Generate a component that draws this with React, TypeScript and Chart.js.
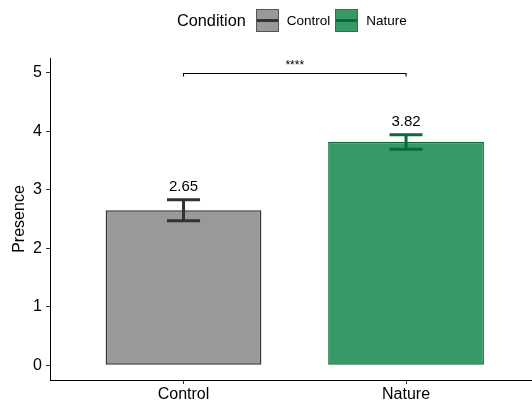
import React, { useEffect, useRef } from "react";
import { Chart, registerables } from "chart.js";

Chart.register(...registerables);

const categories = ["Control", "Nature"];
const means = [2.65, 3.82];
const errLow = [2.47, 3.69];
const errHigh = [2.83, 3.94];
const valueLabels = ["2.65", "3.82"];
const yTicks = [0, 1, 2, 3, 4, 5];
const bracketY = 5.0;
const bracketLabel = "****";

const fills = ["#999999", "#369966"];
const borders = ["#333333", "#0B6B38"];
const errColors = ["#333333", "#0B6B38"];

const FONT = "'Liberation Sans', Arial, Helvetica, sans-serif";

const overlayPlugin = {
  id: "overlay",
  afterDatasetsDraw(chart: any) {
    const ctx = chart.ctx;
    const xs = chart.scales.x;
    const ys = chart.scales.y;
    ctx.save();
    means.forEach((m, i) => {
      const x = xs.getPixelForValue(i + 1);
      const yHi = ys.getPixelForValue(errHigh[i]);
      const yLo = ys.getPixelForValue(errLow[i]);
      const half = 16.5;
      ctx.strokeStyle = errColors[i];
      ctx.lineWidth = 3;
      ctx.lineCap = "butt";
      ctx.beginPath();
      ctx.moveTo(x, yHi);
      ctx.lineTo(x, yLo);
      ctx.moveTo(x - half, yHi);
      ctx.lineTo(x + half, yHi);
      ctx.moveTo(x - half, yLo);
      ctx.lineTo(x + half, yLo);
      ctx.stroke();
      ctx.fillStyle = "#000000";
      ctx.font = `15px ${FONT}`;
      ctx.textAlign = "center";
      ctx.textBaseline = "alphabetic";
      ctx.fillText(valueLabels[i], x, yHi - 8.5);
    });
    const x1 = xs.getPixelForValue(1);
    const x2 = xs.getPixelForValue(2);
    const yb = Math.round(ys.getPixelForValue(bracketY)) + 0.5;
    ctx.strokeStyle = "#000000";
    ctx.lineWidth = 1.1;
    ctx.beginPath();
    ctx.moveTo(x1, yb + 3);
    ctx.lineTo(x1, yb);
    ctx.lineTo(x2, yb);
    ctx.lineTo(x2, yb + 3);
    ctx.stroke();
    ctx.fillStyle = "#000000";
    ctx.font = `12px ${FONT}`;
    ctx.textAlign = "center";
    ctx.textBaseline = "alphabetic";
    ctx.fillText(bracketLabel, (x1 + x2) / 2, yb - 5);
    ctx.restore();
  },
};

function LegendKey({ fill, border, line }: { fill: string; border: string; line: string }) {
  return (
    <div
      style={{
        position: "relative",
        width: 21,
        height: 21,
        background: fill,
        border: `1px solid ${border}`,
      }}
    >
      <div
        style={{
          position: "absolute",
          left: 0,
          right: 0,
          top: 9,
          height: 3,
          background: line,
        }}
      />
    </div>
  );
}

export default function App() {
  const canvasRef = useRef<HTMLCanvasElement | null>(null);

  useEffect(() => {
    if (!canvasRef.current) return;
    const chart = new Chart(canvasRef.current, {
      type: "bar",
      data: {
        datasets: [
          {
            label: "Condition",
            data: means.map((m, i) => ({ x: i + 1, y: m })),
            backgroundColor: fills,
            borderColor: borders,
            borderWidth: 1.5,
            borderSkipped: false,
            barPercentage: 0.7,
            categoryPercentage: 1,
          },
        ],
      },
      options: {
        animation: false,
        responsive: false,
        maintainAspectRatio: false,
        layout: { padding: { top: 58, right: 0, bottom: 0, left: 0 } },
        plugins: {
          legend: { display: false },
          tooltip: { enabled: false },
        },
        scales: {
          x: {
            type: "linear",
            min: 0.4,
            max: 2.566,
            offset: false,
            afterBuildTicks: (scale: any) => {
              scale.ticks = categories.map((_, i) => ({ value: i + 1 }));
            },
            afterFit: (scale: any) => {
              scale.height = 25;
            },
            ticks: {
              callback: (v: any) => categories[Number(v) - 1] ?? "",
              color: "#000000",
              font: { family: FONT, size: 16 },
              padding: 1,
              maxRotation: 0,
              autoSkip: false,
            },
            grid: {
              display: true,
              drawOnChartArea: false,
              drawTicks: true,
              tickLength: 4,
              tickColor: "#333333",
              tickWidth: 1,
              offset: false,
            },
            border: { display: true, color: "#000000", width: 1 },
          },
          y: {
            type: "linear",
            min: -0.25,
            max: 5.25,
            afterBuildTicks: (scale: any) => {
              scale.ticks = yTicks.map((v) => ({ value: v }));
            },
            afterFit: (scale: any) => {
              scale.width = 50;
            },
            ticks: {
              callback: (v: any) => String(v),
              color: "#000000",
              font: { family: FONT, size: 16 },
              padding: 4,
            },
            grid: {
              display: true,
              drawOnChartArea: false,
              drawTicks: true,
              tickLength: 4,
              tickColor: "#333333",
              tickWidth: 1,
            },
            border: { display: true, color: "#000000", width: 1 },
            title: {
              display: true,
              text: "Presence",
              color: "#000000",
              font: { family: FONT, size: 16 },
              padding: { top: 10, bottom: 0 },
            },
          },
        },
      } as any,
      plugins: [overlayPlugin],
    });
    return () => chart.destroy();
  }, []);

  return (
    <div
      style={{
        position: "fixed",
        left: 0,
        top: 0,
        width: 532,
        height: 405,
        background: "#ffffff",
        fontFamily: FONT,
      }}
    >
      <canvas ref={canvasRef} width={532} height={405} style={{ position: "absolute", left: 0, top: 0 }} />
      <div
        style={{
          position: "absolute",
          left: 177,
          top: 9,
          height: 23,
          display: "flex",
          alignItems: "center",
          color: "#000000",
        }}
      >
        <span style={{ fontSize: 16.3, marginRight: 10 }}>Condition</span>
        <LegendKey fill={fills[0]} border={"#555555"} line={errColors[0]} />
        <span style={{ fontSize: 13.5, marginLeft: 8, marginRight: 5 }}>{categories[0]}</span>
        <LegendKey fill={fills[1]} border={"#1F7A45"} line={errColors[1]} />
        <span style={{ fontSize: 13.5, marginLeft: 8 }}>{categories[1]}</span>
      </div>
    </div>
  );
}
